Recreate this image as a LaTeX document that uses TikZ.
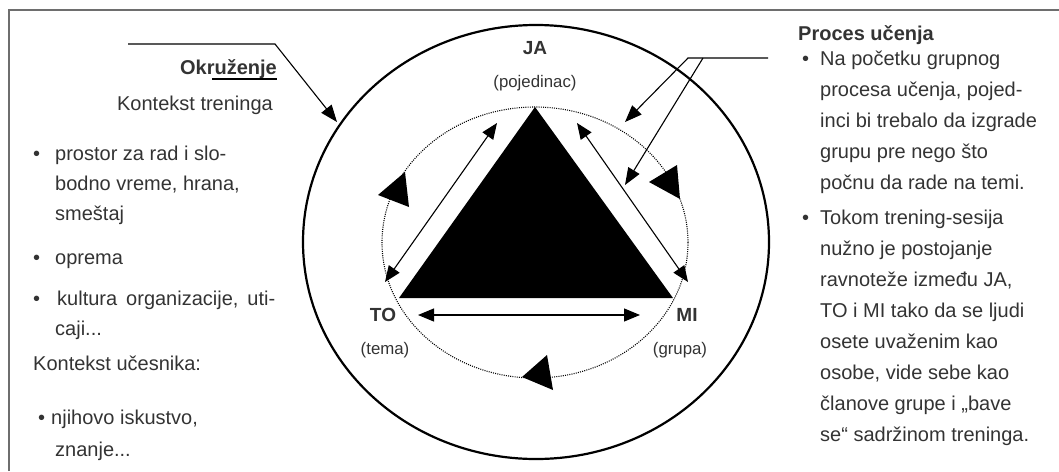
\documentclass[tikz,border=0pt]{standalone}
\usepackage{fontspec}
\setmainfont{Liberation Sans}
\usetikzlibrary{arrows.meta}
\definecolor{txtgray}{HTML}{333333}
\definecolor{framegray}{HTML}{6E6E6E}
\tikzset{
  txt/.style={font=\fontsize{20}{24}\selectfont, text=txtgray, inner sep=0pt, anchor=base west},
  txtr/.style={txt, anchor=base east},
  headtxt/.style={txt, font=\fontsize{20}{24}\selectfont\bfseries},
  pole/.style={font=\fontsize{19}{22}\selectfont\bfseries, text=txtgray, inner sep=0pt},
  poledesc/.style={font=\fontsize{16.8}{20}\selectfont, text=txtgray, inner sep=0pt},
  ptr/.style={line width=1.1pt, -{Triangle[length=17pt,width=13pt]}},
  dbl/.style={line width=1.1pt, {Triangle[length=16pt,width=13pt]}-{Triangle[length=16pt,width=13pt]}},
}
\begin{document}
\begin{tikzpicture}[x=1pt,y=-1pt]
    \useasboundingbox (0,0) rectangle (1059,471);
    % frame
    \draw[framegray, line width=1.5pt] (9,471) -- (9,10) -- (1059,10);

    % circles and triangle
    \draw[line width=2.2pt] (536,242) ellipse [x radius=233pt, y radius=217pt];
    \draw[line width=1.1pt, dash pattern=on 1pt off 1.2pt] (535,242.5) ellipse [x radius=153pt, y radius=135.5pt];
    \coordinate (ja) at (535,107);
    \coordinate (to) at (399,298);
    \coordinate (mi) at (673,298);
    \fill (ja) -- (to) -- (mi) -- cycle;

        \fill (405,172) -- (378,195) -- (409,207) -- cycle;
        \fill (677,165) -- (649,182) -- (680,199) -- cycle;
        \fill (547,355) -- (522,377) -- (553,390) -- cycle;

    % arrows along the sides
    \coordinate (l1) at (385,282); \coordinate (l2) at (497,123);
    \coordinate (r1) at (577,123); \coordinate (r2) at (688,282);
    \coordinate (b1) at (418,315); \coordinate (b2) at (640,315);
    \draw[dbl] (l1) -- (l2);
    \draw[dbl] (r1) -- (r2);
    \draw[dbl] (b1) -- (b2);

    % pointers
    \coordinate (okrA) at (128,44);
    \coordinate (okrB) at (275,44);
    \coordinate (okrC) at (337,122);
    \draw[ptr] (okrA) -- (okrB) -- (okrC);
    \coordinate (proA) at (768,58);
    \coordinate (proB) at (688,58);
    \coordinate (proC) at (625,122);
    \coordinate (proD) at (703,58);
    \coordinate (proE) at (625,185);
    \draw[ptr] (proA) -- (proB) -- (proC);
    \draw[ptr] (proD) -- (proE);

    % poles
    \node[pole] (jalbl) at (535,48) {JA};
    \node[poledesc] (jadesc) at (535,83) {(pojedinac)};
    \node[pole] (tolbl) at (383,315) {TO};
    \node[poledesc] (todesc) at (385,350) {(tema)};
    \node[pole] (milbl) at (687,315) {MI};
    \node[poledesc] (midesc) at (680,350) {(grupa)};

    % left column
    \node[txtr, font=\fontsize{20}{24}\selectfont\bfseries] (okr) at (277,74) {Okruženje};
    \draw[line width=1.5pt] (212,79) -- (277,79);
    \node[txtr] (ktr) at (273,110) {Kontekst treninga};
    \node[txt] (b1a) at (33,160) {•};
        \node[txt] (l1a) at (55,160) {prostor za rad i slo-};
        \node[txt] (l1b) at (55,190) {bodno vreme, hrana,};
        \node[txt] (l1c) at (55,220) {smeštaj};
    \node[txt] (b1b) at (33,264) {•};
        \node[txt] (l2a) at (55,264) {oprema};
    \node[txt] (b1c) at (33,305) {•};
        \node[txt] (l3a) at (57,305) {kultura\hspace{9pt}organizacije,\hspace{9pt}uti-};
        \node[txt] (l3b) at (55,335) {caji...};
    \node[txt] (kuc) at (33,370) {Kontekst učesnika:};
    \node[txt] (b1d) at (38,424) {•};
        \node[txt] (l4a) at (51,424) {njihovo iskustvo,};
        \node[txt] (l4b) at (55,456) {znanje...};

    % right column
    \node[headtxt] (proc) at (798,40) {Proces učenja};
    \node[txt] (b2a) at (802,65) {•};
        \node[txt] (r1a) at (820,65) {Na početku grupnog};
        \node[txt] (r1b) at (820,96) {procesa učenja, pojed-};
        \node[txt] (r1c) at (820,127) {inci bi trebalo da izgrade};
        \node[txt] (r1d) at (820,158) {grupu pre nego što};
        \node[txt] (r1e) at (820,189) {počnu da rade na temi.};
    \node[txt] (b2b) at (802,224) {•};
        \node[txt] (r2a) at (820,224) {Tokom trening-sesija};
        \node[txt] (r2b) at (820,255) {nužno je postojanje};
        \node[txt] (r2c) at (820,286) {ravnoteže između JA,};
        \node[txt] (r2d) at (820,317) {TO i MI tako da se ljudi};
        \node[txt] (r2e) at (820,348) {osete uvaženim kao};
        \node[txt] (r2f) at (820,379) {osobe, vide sebe kao};
        \node[txt] (r2g) at (820,410) {članove grupe i „bave};
        \node[txt] (r2h) at (820,441) {se“ sadržinom treninga.};
\end{tikzpicture}
\end{document}
